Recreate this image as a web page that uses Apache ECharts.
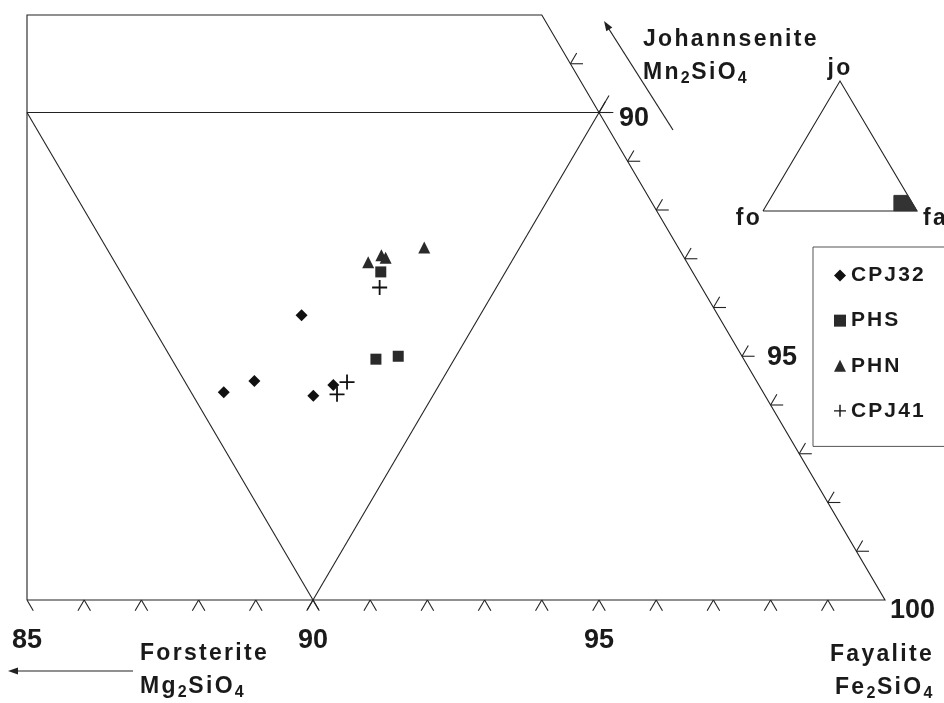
<!DOCTYPE html>
<html>
<head>
<meta charset="utf-8">
<script src="https://cdn.jsdelivr.net/npm/echarts@6/dist/echarts.min.js"></script>
<style>html,body{margin:0;padding:0;background:#fff;}#c{width:944px;height:703px;}</style>
</head>
<body>
<div id="c"></div>
<script>
// ---------------- data (olivine compositions, mol %) ----------------
const seriesNames = ['CPJ32', 'PHS', 'PHN', 'CPJ41'];
const cpj32Fa = [86.88, 86.31, 86.73, 87.91, 88.15];
const cpj32Jo = [5.84, 4.26, 4.49, 4.19, 4.41];
const phsFa = [87.82, 88.63, 88.99];
const phsJo = [6.73, 4.94, 5.00];
const phnFa = [87.50, 87.66, 87.76, 88.33];
const phnJo = [6.93, 7.07, 7.02, 7.23];
const cpj41Fa = [87.96, 88.36, 88.31];
const cpj41Jo = [6.41, 4.47, 4.22];

// ticks / labels
const faTicks = [85, 86, 87, 88, 89, 90, 91, 92, 93, 94, 95, 96, 97, 98, 99];
const joTicks = [1, 2, 3, 4, 5, 6, 7, 8, 9, 10, 11];
const rightLabels = [90, 95, 100];      // Fa % along the Fo-free edge
const endMembers = ['Johannsenite', 'Forsterite', 'Fayalite'];
const formulas = [['Mn', '2', 'SiO', '4'], ['Mg', '2', 'SiO', '4'], ['Fe', '2', 'SiO', '4']];
const insetLabels = ['jo', 'fo', 'fa'];

// ---------------- styling helpers ----------------
const FONT = "'Liberation Sans', Arial, Helvetica, sans-serif";
const INK = '#1a1a1a';
(function () {
  const P = CanvasRenderingContext2D.prototype;
  if (!('letterSpacing' in P)) return;
  const sp = f => { const m = /([\d.]+)px/.exec(f || ''); const s = m ? parseFloat(m[1]) : 12; return s < 25 ? (s * 0.1).toFixed(1) + 'px' : '0px'; };
  ['fillText', 'strokeText', 'measureText'].forEach(n => {
    const o = P[n];
    P[n] = function () { this.letterSpacing = sp(this.font); return o.apply(this, arguments); };
  });
})();

// ternary (fa, jo) -> cartesian (x, jo)
const toXY = (fa, jo) => [fa + jo / 2, jo];
const X0 = 85, X1 = 100, JO_MAX = 12, EXT = 0.22;

const frame = [[X0, 0], [X1, 0], [X1 - JO_MAX / 2, JO_MAX], [X0, JO_MAX], [X0, 0]];
const segs = [frame];
segs.push([[X0, 10], [toXY(90, 10)[0] + 0.25, 10]]);     // Jo = 10
segs.push([toXY(80, 10), toXY(90.2, -0.2)]);              // Fo = 10
segs.push([toXY(90, -0.2), toXY(90, 10.35)]);             // Fa = 90
faTicks.forEach(f => {
  const l = toXY(f, -EXT);
  if (l[0] >= X0) segs.push([[f, 0], l]);
  segs.push([[f, 0], toXY(f + EXT, -EXT)]);
});
joTicks.forEach(k => {
  const p = toXY(100 - k, k);
  segs.push([p, [p[0] + EXT, k]]);
  segs.push([p, toXY(100 - k, k + EXT)]);
});

const insetTri = [toXY(0, 0), toXY(0, 100), toXY(100, 0), toXY(0, 0)];
const rightLabelOffsets = [[20, 6], [25, 1], [5, 11]];

const pts = (fa, jo) => fa.map((f, i) => toXY(f, jo[i]));
const PLUS = 'path://M4.4,0H5.6V4.4H10V5.6H5.6V10H4.4V5.6H0V4.4H4.4Z';

const richStyles = {
  a: { fontSize: 23, fontWeight: 'bold', fontFamily: FONT, fill: INK, lineHeight: 28 },
  s: { fontSize: 16, fontWeight: 'bold', fontFamily: FONT, fill: INK, lineHeight: 17, padding: [11, 0, 0, 0] }
};
const fml = p => '{a|' + p[0] + '}{s|' + p[1] + '}{a|' + p[2] + '}{s|' + p[3] + '}';
const txt = (text, x, y, align, size) => ({
  type: 'text', x: x, y: y, silent: true,
  style: { text: text, fill: INK, fontSize: size || 23, fontWeight: 'bold', fontFamily: FONT,
    align: align || 'left', textAlign: align || 'left', verticalAlign: 'middle', textVerticalAlign: 'middle' }
});
const rtxt = (parts, x, y) => ({
  type: 'text', x: x, y: y, silent: true,
  style: { text: fml(parts), rich: richStyles, fill: INK, fontSize: 23, fontWeight: 'bold', fontFamily: FONT,
    align: 'left', textAlign: 'left', verticalAlign: 'middle', textVerticalAlign: 'middle' }
});

const chart = echarts.init(document.getElementById('c'), null, { renderer: 'canvas' });
chart.setOption({
  animation: false,
  backgroundColor: '#fff',
  grid: [
    { left: 27, top: 15, width: 858, height: 585, containLabel: false, outerBoundsMode: 'none' },
    { left: 763, top: 81, width: 154, height: 130, containLabel: false, outerBoundsMode: 'none' }
  ],
  xAxis: [
    { type: 'value', gridIndex: 0, min: X0, max: X1, interval: 5,
      axisLine: { show: false }, axisTick: { show: false }, splitLine: { show: false },
      axisLabel: { show: true, showMaxLabel: false, margin: 27, fontSize: 27, fontWeight: 'bold', color: INK, fontFamily: FONT } },
    { type: 'value', gridIndex: 1, min: 0, max: 100, show: false, splitLine: { show: false } }
  ],
  yAxis: [
    { type: 'value', gridIndex: 0, min: 0, max: JO_MAX, show: false, splitLine: { show: false } },
    { type: 'value', gridIndex: 1, min: 0, max: 100, show: false, splitLine: { show: false } }
  ],
  legend: {
    orient: 'vertical', left: 813, top: 247,
    padding: [17, 60, 24, 21], itemGap: 22, itemWidth: 12, itemHeight: 12,
    borderColor: '#555', borderWidth: 1, backgroundColor: '#fff',
    data: seriesNames,
    textStyle: { fontSize: 21, fontWeight: 'bold', color: INK, fontFamily: FONT }
  },
  series: [
    { type: 'lines', coordinateSystem: 'cartesian2d', xAxisIndex: 0, yAxisIndex: 0, polyline: true, clip: false,
      silent: true, lineStyle: { color: '#222', width: 1.1, opacity: 1, curveness: 0 },
      data: segs.map(s => ({ coords: s })) },
    { type: 'lines', coordinateSystem: 'cartesian2d', xAxisIndex: 1, yAxisIndex: 1, polyline: true, clip: false,
      silent: true, lineStyle: { color: '#222', width: 1.1, opacity: 1, curveness: 0 },
      data: [{ coords: insetTri }] },
    { type: 'line', xAxisIndex: 1, yAxisIndex: 1, data: frame, symbol: 'none', silent: true,
      lineStyle: { color: '#333', width: 1 }, areaStyle: { color: '#333', opacity: 1 } },
    { name: 'CPJ32', type: 'scatter', data: pts(cpj32Fa, cpj32Jo), symbol: 'diamond', symbolSize: 12,
      itemStyle: { color: '#111', opacity: 1 } },
    { name: 'PHS', type: 'scatter', data: pts(phsFa, phsJo), symbol: 'rect', symbolSize: 11,
      itemStyle: { color: '#2a2a2a', opacity: 1 } },
    { name: 'PHN', type: 'scatter', data: pts(phnFa, phnJo), symbol: 'triangle', symbolSize: 12,
      itemStyle: { color: '#2a2a2a', opacity: 1 } },
    { name: 'CPJ41', type: 'scatter', data: pts(cpj41Fa, cpj41Jo), symbol: PLUS, symbolSize: 15,
      itemStyle: { color: '#111', opacity: 1 } },
    { type: 'scatter', silent: true, symbolSize: 0.1, itemStyle: { color: INK, opacity: 1 },
      data: rightLabels.map((v, i) => ({ value: toXY(v, 100 - v), label: { offset: rightLabelOffsets[i] } })),
      label: { show: true, position: 'right', distance: 0, formatter: p => String(rightLabels[p.dataIndex]),
        fontSize: 27, fontWeight: 'bold', color: INK, opacity: 1, textBorderWidth: 0, fontFamily: FONT } }
  ],
  graphic: [
    txt(endMembers[0], 643, 40), rtxt(formulas[0], 643, 73),
    txt(endMembers[1], 140, 654), rtxt(formulas[1], 140, 687),
    txt(endMembers[2], 830, 655), rtxt(formulas[2], 835, 688),
    txt(insetLabels[0], 840, 69, 'center'), txt(insetLabels[1], 749, 219, 'center'), txt(insetLabels[2], 923, 219, 'left'),
    { type: 'line', silent: true, shape: { x1: 133, y1: 671, x2: 14, y2: 671 }, style: { stroke: '#222', lineWidth: 1.2 } },
    { type: 'polygon', silent: true, shape: { points: [[8, 671], [18, 667.5], [18, 674.5]] }, style: { fill: '#222' } },
    { type: 'line', silent: true, shape: { x1: 673, y1: 130, x2: 607, y2: 26 }, style: { stroke: '#222', lineWidth: 1.2 } },
    { type: 'polygon', silent: true, shape: { points: [[604, 21], [612.3, 27.6], [606.3, 31.3]] }, style: { fill: '#222' } }
  ]
});
</script>
</body>
</html>
